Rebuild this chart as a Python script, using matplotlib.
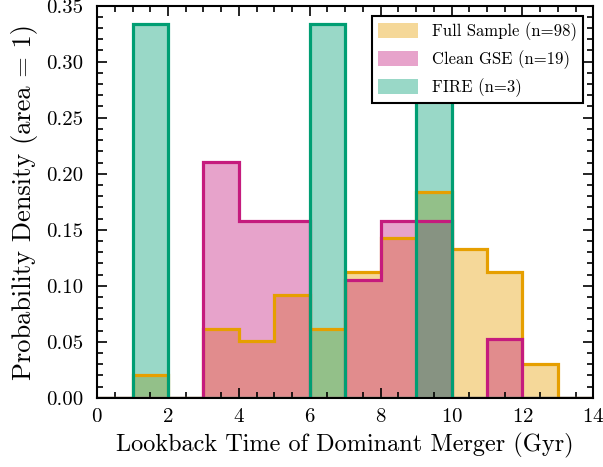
import numpy as np
import matplotlib
matplotlib.use("Agg")
import matplotlib.pyplot as plt
from matplotlib.patches import Patch
from matplotlib.ticker import MultipleLocator

plt.rcParams['font.family'] = 'serif'
plt.rcParams['font.serif'] = ['cmr10', 'DejaVu Serif']
plt.rcParams['mathtext.fontset'] = 'cm'
plt.rcParams['axes.formatter.use_mathtext'] = True

# bins of width 1 Gyr, counts per bin
bin_edges = np.arange(0, 15, 1)
bin_centers = bin_edges[:-1] + 0.5
full_counts = [0, 2, 0, 6, 5, 9, 6, 11, 14, 18, 13, 11, 3, 0]
gse_counts = [0, 0, 0, 4, 3, 3, 0, 2, 3, 3, 0, 1, 0, 0]
fire_counts = [0, 1, 0, 0, 0, 0, 1, 0, 0, 1, 0, 0, 0, 0]

labels = ["Full Sample (n=98)", "Clean GSE (n=19)", "FIRE (n=3)"]
colors = ["#E69F00", "#C51B7D", "#009E73"]
all_counts = [full_counts, gse_counts, fire_counts]

fig = plt.figure(figsize=(6.03, 4.67), dpi=100)
ax = fig.add_axes([0.161, 0.148, 0.823, 0.840])

for counts, col in zip(all_counts, colors):
    ax.hist(bin_centers, bins=bin_edges, weights=counts, density=True,
            histtype='stepfilled', color=col, alpha=0.4, lw=0)
    ax.hist(bin_centers, bins=bin_edges, weights=counts, density=True,
            histtype='step', color=col, lw=2.3)

ax.set_xlim(0, 14)
ax.set_ylim(0, 0.35)
ax.xaxis.set_major_locator(MultipleLocator(2))
ax.xaxis.set_minor_locator(MultipleLocator(0.5))
ax.yaxis.set_major_locator(MultipleLocator(0.05))
ax.yaxis.set_minor_locator(MultipleLocator(0.01))
ax.yaxis.set_major_formatter(plt.FormatStrFormatter('%.2f'))
ax.tick_params(which='both', direction='in', top=True, right=True, labelsize=15, width=1.2)
ax.tick_params(which='major', length=7)
ax.tick_params(axis='x', which='major', pad=7)
ax.tick_params(axis='y', which='major', pad=10)
ax.tick_params(which='minor', length=4)
for s in ax.spines.values():
    s.set_linewidth(1.5)

ax.set_xlabel("Lookback Time of Dominant Merger (Gyr)", fontsize=17.5, labelpad=5)
ax.set_ylabel("Probability Density (area = 1)", fontsize=19, labelpad=6)

handles = [Patch(facecolor=c, alpha=0.4, edgecolor='none') for c in colors]
leg = ax.legend(handles, labels, loc='upper right', fontsize=12, fancybox=False,
                framealpha=1, edgecolor='black', handlelength=2.4, handleheight=1.0,
                labelspacing=0.55, borderaxespad=0.6)
leg.get_frame().set_linewidth(1.5)

plt.savefig("out.png", dpi=100)
